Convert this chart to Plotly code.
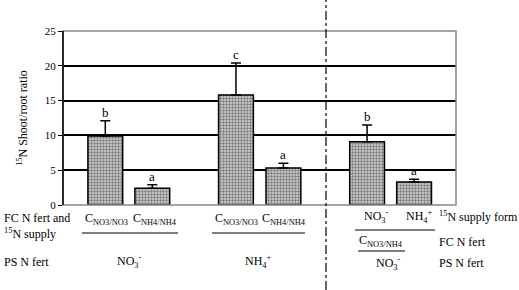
import plotly.graph_objects as go

# ---- data ----
bar_labels = ["NO3/NO3 (PS NO3)", "NH4/NH4 (PS NO3)", "NO3/NO3 (PS NH4)", "NH4/NH4 (PS NH4)",
              "NO3 supply (NO3/NH4)", "NH4 supply (NO3/NH4)"]
ratio_values = [9.9, 2.4, 15.8, 5.3, 9.1, 3.3]
error_values = [2.2, 0.5, 4.6, 0.7, 2.4, 0.4]
sig_letters = ["b", "a", "c", "a", "b", "a"]
y_ticks = [0, 5, 10, 15, 20, 25]

# ---- layout helpers ----
x_pos = [0.9, 1.9, 3.68, 4.69, 6.47, 7.47]
L, R, T, B = 63, 456, 31, 205
W, H = 519, 290
FONT = "Liberation Serif, Times New Roman, serif"

def px(x):
    return (x - L) / (R - L)

def py(y):
    return (B - y) / (B - T)

fig = go.Figure()
fig.add_trace(go.Bar(
    x=x_pos, y=ratio_values, width=0.74,
    marker=dict(color="#cfcfcf", line=dict(color="black", width=1.5),
                pattern=dict(shape=".", fgcolor="#222222", bgcolor="#d4d4d4", size=3, solidity=0.5)),
    error_y=dict(type="data", array=error_values, arrayminus=[0]*6, symmetric=False,
                 color="black", thickness=1.5, width=5),
    showlegend=False, hoverinfo="skip",
))

for xv, v, e, s in zip(x_pos, ratio_values, error_values, sig_letters):
    fig.add_annotation(x=xv, y=v + e, text=s, showarrow=False, yanchor="bottom", yshift=-1,
                       font=dict(family=FONT, size=13, color="black"))

shapes = []
# frame
shapes.append(dict(type="rect", xref="paper", yref="paper", x0=0, x1=1, y0=0, y1=1,
                   line=dict(color="#888888", width=1.5)))
shapes.append(dict(type="line", xref="paper", yref="paper", x0=0, x1=0, y0=0, y1=1,
                   line=dict(color="black", width=1.5)))
# dash-dot divider
shapes.append(dict(type="line", xref="paper", yref="paper", x0=px(326), x1=px(326), y0=py(290), y1=py(0),
                   line=dict(color="black", width=1.2, dash="dashdot")))
# underlines
for x0, x1, yy in [(82, 178, 233), (212, 305, 233), (355, 435, 230), (358, 405, 251)]:
    shapes.append(dict(type="line", xref="paper", yref="paper", x0=px(x0), x1=px(x1), y0=py(yy), y1=py(yy),
                       line=dict(color="black", width=1.2)))

def txt(x, y, t, anchor="center", size=12):
    fig.add_annotation(xref="paper", yref="paper", x=px(x), y=py(y), text=t, showarrow=False,
                       xanchor=anchor, yanchor="middle", align="left",
                       font=dict(family=FONT, size=size, color="black"))

C33 = "C<sub>NO3/NO3</sub>"
C44 = "C<sub>NH4/NH4</sub>"
C34 = "C<sub>NO3/NH4</sub>"
NO3 = "NO<sub>3</sub><sup>-</sup>"
NH4 = "NH<sub>4</sub><sup>+</sup>"

txt(2, 226, "FC N fert and<br><sup>15</sup>N supply", anchor="left")
txt(2, 262, "PS N fert", anchor="left")
txt(106, 219, C33)
txt(155, 219, C44)
txt(129, 261, NO3)
txt(236, 219, C33)
txt(284, 219, C44)
txt(258, 261, NH4)
txt(376, 217, NO3)
txt(419, 217, NH4)
txt(437, 217, "<sup>15</sup>N supply form", anchor="left")
txt(381, 241, C34)
txt(437, 242, "FC N fert", anchor="left")
txt(388, 263, NO3)
txt(437, 263, "PS N fert", anchor="left")

fig.update_layout(
    width=W, height=H, margin=dict(l=L, r=W - R, t=T, b=H - B),
    paper_bgcolor="white", plot_bgcolor="white",
    shapes=shapes,
    xaxis=dict(range=[0, (R - L) / 47], showticklabels=False, showgrid=False, zeroline=False,
               showline=False, ticks=""),
    yaxis=dict(range=[0, 25], tickvals=y_ticks, ticks="outside", ticklen=4, tickcolor="black",
               showgrid=True, gridcolor="black", gridwidth=1.5, zeroline=False, showline=False,
               tickfont=dict(family=FONT, size=11, color="black"),
               title=dict(text="<sup>15</sup>N Shoot/root ratio", standoff=14,
                          font=dict(family=FONT, size=12, color="black"))),
    font=dict(family=FONT, color="black"),
)

fig.write_html("out.html", config={"displayModeBar": False},
               post_script="document.body.style.margin='0';document.body.style.padding='0';")
